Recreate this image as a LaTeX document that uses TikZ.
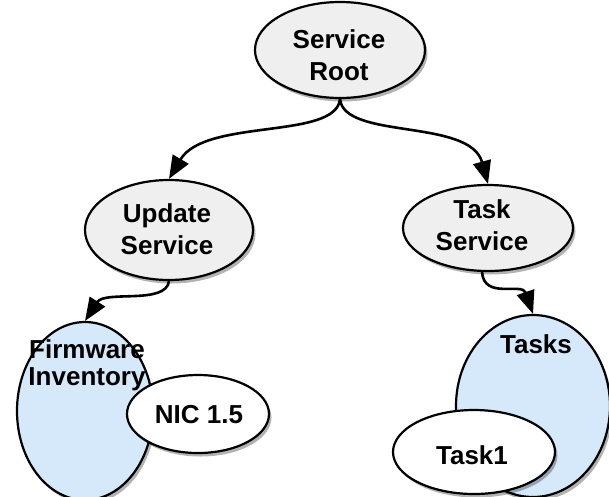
\documentclass[tikz,border=0pt]{standalone}
\usepackage{fontspec}
\setmainfont{Liberation Sans}
\usetikzlibrary{shapes.geometric,arrows.meta,shadows}
\definecolor{svcgray}{HTML}{EFEFEF}
\definecolor{collblue}{HTML}{D6E9FB}
\begin{document}
\begin{tikzpicture}[x=1pt,y=-1pt,
  ell/.style={ellipse, draw=black, line width=2.2pt, inner sep=0pt,
    drop shadow={shadow xshift=2.5pt, shadow yshift=-3.5pt, opacity=0.3, fill=black}},
  svc/.style={ell, fill=svcgray},
  coll/.style={ell, fill=collblue},
  res/.style={ell, fill=white},
  lbl/.style={font=\fontsize{26}{32}\selectfont\bfseries, align=center, inner sep=0pt},
  conn/.style={line width=2.6pt, -{Triangle[length=23pt,width=18pt]}}]
\useasboundingbox (0,0) rectangle (609,496);
% ellipses
\node[svc, minimum width=170pt, minimum height=96pt] (root) at (340,50) {};
\node[lbl] (rootl) at (339,55) {Service\\Root};
\node[svc, minimum width=168pt, minimum height=100pt] (upd) at (169,230) {};
\node[lbl] (updl) at (167,229) {Update\\Service};
\node[svc, minimum width=170pt, minimum height=86pt] (ts) at (488,228) {};
\node[lbl] (tsl) at (482,225) {Task\\Service};
\node[coll, minimum width=136pt, minimum height=178pt] (fw) at (85,411) {};
\node[lbl, font=\fontsize{26}{27}\selectfont\bfseries] (fwl) at (87,365) {Firmware\\Inventory};
\node[res, minimum width=142pt, minimum height=78pt] (nic) at (198,414) {};
\node[lbl] (nicl) at (199,415) {NIC 1.5};
\node[coll, minimum width=154pt, minimum height=182pt] (tasks) at (533,406) {};
\node[lbl] (tasksl) at (536,344) {Tasks};
\node[res, minimum width=162pt, minimum height=84pt] (task1) at (474,452) {};
\node[lbl] (task1l) at (472,455) {Task1};
% connectors
\draw[conn] (root.south) .. controls (336,140) and (205,118) .. (upd.north);
\draw[conn] (root.south) .. controls (344,140) and (470,118) .. (ts.north);
\draw[conn] (upd.south) .. controls (166,305) and (105,290) .. (fw.north);
\draw[conn] (ts.south) ++(-6,0) coordinate (tsa) (tsa) .. controls (484,300) and (522,282) .. (tasks.north);
\end{tikzpicture}
\end{document}
